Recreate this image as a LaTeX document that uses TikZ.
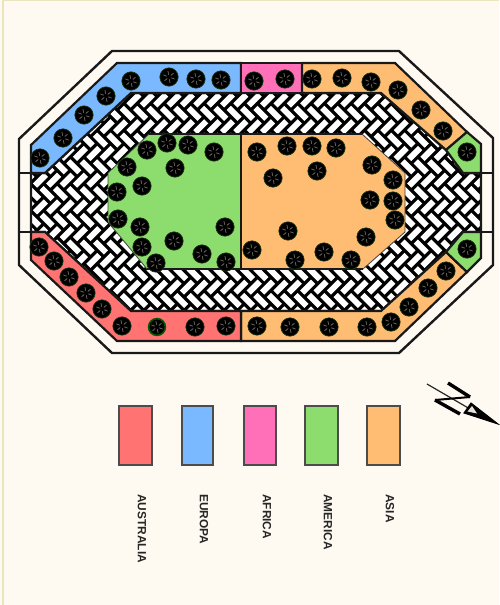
\documentclass[tikz,border=0pt]{standalone}
\usepackage{fontspec}
\setmainfont{Liberation Sans}
\definecolor{bgc}{HTML}{FFFAF1}
\definecolor{edgec}{HTML}{E9E5BE}
\definecolor{redc}{HTML}{FF7373}
\definecolor{bluec}{HTML}{7AB8FF}
\definecolor{pinkc}{HTML}{FF70B8}
\definecolor{greenc}{HTML}{8CDC6E}
\definecolor{orangec}{HTML}{FFBD73}
\definecolor{speck}{HTML}{77726A}
\definecolor{rimc}{HTML}{1E3A12}
\newcommand{\ringpath}{(131,93) -- (381,93) -- (446,150) -- (463,173) -- (481,173) -- (481,232) -- (463,232) -- (446,252) -- (381,311) -- (131,311) -- (45,232) -- (31,232) -- (31,173) -- (45,173) -- cycle}
\tikzset{
  wall/.style={draw=black!90,line width=2.4pt,line join=miter},
  band/.style={draw=black!90,line width=2.2pt,line join=miter},
  swatch/.style={draw=black!70,line width=1.3pt},
  legendlabel/.style={rotate=-90,anchor=west,inner sep=0pt,font=\bfseries\fontsize{11.9}{14}\selectfont,text=black!85},
  courtline/.style={draw=black!75,line width=.8pt},
  shrub/.pic={
    \fill[black] (0,0) circle[radius=9.2];
    \draw[rimc,line width=.6pt] (0,0) circle[radius=9.2];
    \foreach \a in {20,80,140,200,260,320}
      \draw[speck,line width=.7pt,line cap=round] (\a:2.6) -- (\a:5.8);
  },
  bigshrub/.pic={
    \fill[black] (0,0) circle[radius=8];
    \draw[green!35!black,line width=1.6pt] (0,0) circle[radius=8.4];
    \foreach \a in {20,80,140,200,260,320}
      \draw[speck,line width=.7pt,line cap=round] (\a:2.6) -- (\a:5.8);
  }
}
\begin{document}
\begin{tikzpicture}[x=1pt,y=-1pt]
\useasboundingbox (0,0) rectangle (499,605);
\fill[bgc] (0,0) rectangle (499,605);
\draw[edgec,line width=1.2pt] (3,605) -- (3,.6) -- (499,.6);
% herringbone ring
\begin{scope}
  \clip \ringpath;
  \fill[black] (0,50) rectangle (499,350);
  \def\U{9.45}\def\G{3.5}
  \begin{scope}[shift={(244.2,210.26)},rotate=45]
    \foreach \i in {-22,...,22} \foreach \j in {-6,...,6} {
      \pgfmathsetmacro\pu{\U*(\i+2*\j)}
      \pgfmathsetmacro\pv{\U*(\i-2*\j)}
      \pgfmathsetmacro\aa{\G/2}
      \pgfmathsetmacro\bb{2*\U-\G/2}
      \pgfmathsetmacro\cc{\U-\G/2}
      \pgfmathsetmacro\dd{2*\U+\G/2}
      \pgfmathsetmacro\ee{-\U+\G/2}
      \pgfmathsetmacro\ff{3*\U-\G/2}
      \fill[white,shift={(\pu,\pv)}] (\aa,\aa) rectangle (\bb,\cc) (\dd,\ee) rectangle (\ff,\cc);
    }
  \end{scope}
\end{scope}
\draw[band] \ringpath;
% bands
\draw[band,fill=bluec] (241,63) -- (117,63) -- (31,145) -- (31,173) -- (45,173) -- (131,93) -- (241,93) -- cycle;
\draw[band,fill=pinkc] (241,63) rectangle (302,93);
\draw[band,fill=orangec] (302,63) -- (395,63) -- (467,132) -- (446,150) -- (381,93) -- (302,93) -- cycle;
\draw[band,fill=orangec] (241,311) -- (381,311) -- (446,252) -- (467,272) -- (395,341) -- (241,341) -- cycle;
\draw[band,fill=redc] (241,341) -- (117,341) -- (31,260) -- (31,232) -- (45,232) -- (131,311) -- (241,311) -- cycle;
\draw[band,fill=greenc] (446,150) -- (467,132) -- (481,144) -- (481,173) -- (463,173) -- cycle;
\draw[band,fill=greenc] (446,252) -- (467,272) -- (481,258) -- (481,232) -- (463,232) -- cycle;
% outer wall
\draw[wall] (112,51) -- (399,51) -- (493,138) -- (493,265) -- (399,353) -- (112,353) -- (19,265) -- (19,139) -- cycle;
\draw[wall,line width=1.3pt] (19,173) -- (31,173) (19,232) -- (31,232) (481,173) -- (493,173) (481,232) -- (493,232);
% court
\fill[greenc] (241,134) -- (149,134) -- (108,173) -- (108,222) -- (147,269) -- (241,269) -- cycle;
\fill[orangec] (241,134) -- (362,134) -- (405,173) -- (405,232) -- (363,269) -- (241,269) -- cycle;
\draw[courtline] (149,134) -- (108,173) -- (108,222) -- (147,269);
\draw[courtline] (362,134) -- (405,173) -- (405,232) -- (363,269);
\draw[band] (149,134) -- (362,134) (147,269) -- (363,269) (241,134) -- (241,269);
% shrubs
\foreach \x/\y in {
  131/81,169/77,196/79,221/80,106/96,84/115,63/138,40/158,
  254/81,285/79,
  312/79,342/78,371/82,398/90,421/110,443/131,467/152,
  147/150,167/143,188/145,214/152,175/168,127/167,142/186,117/192,
  118/219,140/227,142/247,174/241,156/263,202/254,226/262,225/227,
  39/247,54/261,69/277,86/293,102/309,122/326,195/327,226/326,
  257/152,287/146,312/146,336/148,273/178,317/171,372/165,393/180,370/200,393/201,395/220,
  288/231,366/237,252/250,295/260,324/252,351/260,
  257/326,290/327,329/327,367/327,391/322,409/307,428/288,446/271,467/249}
  \pic at (\x,\y) {shrub};
\pic at (157,327) {bigshrub};
% legend
\draw[swatch,fill=redc] (119,406) rectangle (152,465);
\draw[swatch,fill=bluec] (182,406) rectangle (213,465);
\draw[swatch,fill=pinkc] (244,406) rectangle (276,465);
\draw[swatch,fill=greenc] (305,406) rectangle (338,465);
\draw[swatch,fill=orangec] (367,406) rectangle (400,465);
\node[legendlabel] (la) at (142,494) {AUSTRALIA};
\node[legendlabel] (le) at (204,494) {EUROPA};
\node[legendlabel] (lf) at (267,494) {AFRICA};
\node[legendlabel] (lm) at (328,494) {AMERICA};
\node[legendlabel] (ls) at (390,494) {ASIA};
% north mark
\draw[black!85,line width=1.2pt] (427,384) -- (470,409);
\draw[black,line width=1pt,fill=black,line join=miter] (498,424) -- (464,413) -- (471,403) -- cycle;
\fill[bgc!80!gray] (467.5,411.5) -- (472,406) -- (477,413.5) -- cycle;
\draw[black,line width=2pt] (470,397) -- (435,400);
\draw[black,line width=3.4pt] (448,383) -- (470,397) (435,400) -- (460,414);
\end{tikzpicture}
\end{document}
